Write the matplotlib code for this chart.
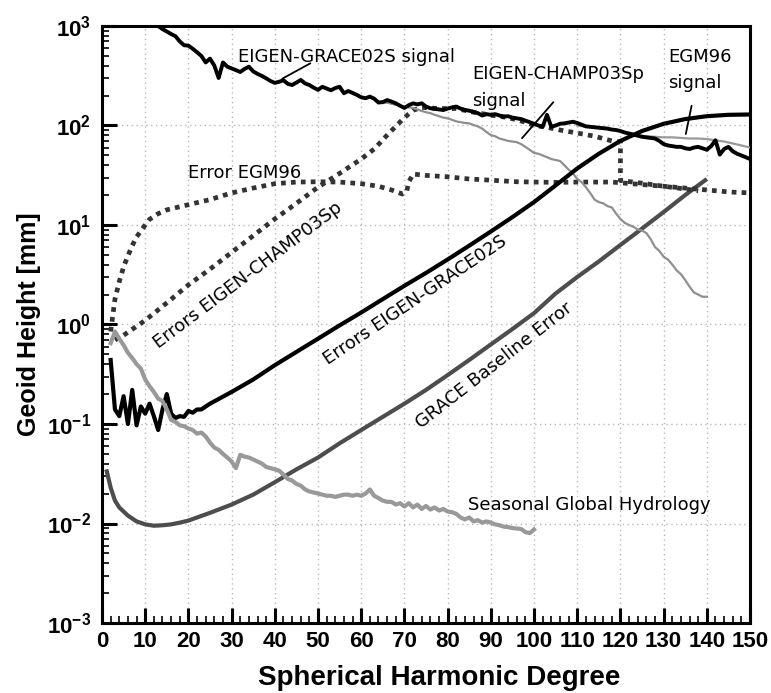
import matplotlib
matplotlib.use('Agg')
import matplotlib.pyplot as plt
from matplotlib.ticker import FixedLocator, MultipleLocator, LogLocator, NullFormatter

plt.rcParams['font.family'] = 'Liberation Sans'
plt.rcParams['mathtext.fontset'] = 'custom'
plt.rcParams['mathtext.rm'] = 'Liberation Sans:bold'
plt.rcParams['mathtext.bf'] = 'Liberation Sans:bold'
plt.rcParams['mathtext.it'] = 'Liberation Sans:bold'
plt.rcParams['mathtext.default'] = 'rm'

# EIGEN-GRACE02S signal (degree 12..150)
grace_sig_deg = list(range(12, 151))
grace_sig = [1150, 1000, 930, 880, 830, 790, 700, 640, 635, 590, 545, 500, 430, 470, 400, 300,
             430, 390, 375, 360, 345, 370, 390, 350, 330, 315, 298, 280, 268, 275, 285, 262,
             255, 270, 287, 265, 255, 240, 228, 245, 235, 226, 238, 245, 211, 222, 212, 203,
             192, 188, 195, 186, 170, 172, 180, 174, 167, 158, 150, 160, 167, 163, 167, 155,
             149, 147, 145, 143, 148, 152, 155, 148, 143, 141, 137, 133, 126, 130, 128, 130,
             126, 123, 124, 120, 118, 116, 112, 108, 104, 100, 97, 128, 97, 100, 104, 105,
             107, 109, 106, 102, 98, 97, 96, 95, 94, 93, 91, 90, 88, 85, 83, 81, 79, 77, 76,
             75, 74, 70, 65, 63, 62, 61, 61, 59, 58, 60, 61, 59, 57, 62, 71, 51, 58, 61, 55,
             52, 50, 48, 46]

# EIGEN-CHAMP03Sp signal (visible part, degree 65..140)
champ_sig_deg = list(range(65, 141))
champ_sig = [168, 170, 165, 162, 158, 155, 152, 150, 145, 140, 136, 133, 128, 124, 120, 118,
             114, 110, 108, 106, 105, 101, 98, 93, 86, 80, 78, 74, 72, 70, 69, 68, 65, 61, 57,
             53, 52, 50, 48, 46, 45, 44, 40, 36, 33, 29, 27, 24, 21, 18, 17, 16.5, 15.5, 15,
             13, 11.5, 10.5, 10, 9.6, 9, 8.8, 8.3, 7.2, 6, 5.5, 4.8, 4.5, 4, 3.5, 3.2, 2.8,
             2.4, 2.1, 2.0, 1.9, 1.9]

# EGM96 signal (visible part)
egm_sig_deg = [110, 114, 118, 120, 122, 124, 126, 128, 130, 132, 134, 136, 138, 140, 142, 144,
               146, 148, 150]
egm_sig = [100, 95, 92, 88, 84, 80, 78, 77, 76, 76, 75, 74, 74, 73, 71, 69, 66, 63, 60]

# Errors EIGEN-GRACE02S
grace_err_deg = [2, 3, 4, 5, 6, 7, 8, 9, 10, 11, 12, 13, 14, 15, 16, 17, 18, 19, 20, 21, 22, 23,
                 24, 25, 30, 35, 40, 45, 50, 55, 60, 65, 70, 75, 80, 85, 90, 95, 100, 105, 110,
                 115, 120, 125, 130, 135, 140, 145, 150]
grace_err = [0.44, 0.14, 0.12, 0.19, 0.10, 0.22, 0.097, 0.15, 0.127, 0.16, 0.12, 0.087, 0.14,
             0.2, 0.127, 0.115, 0.12, 0.118, 0.135, 0.13, 0.14, 0.14, 0.15, 0.16, 0.21, 0.28,
             0.39, 0.53, 0.72, 0.98, 1.32, 1.8, 2.45, 3.3, 4.5, 6.2, 8.6, 12, 17, 25, 37, 52,
             70, 88, 104, 116, 124, 128, 129]

# Errors EIGEN-CHAMP03Sp
champ_err_deg = [3, 5, 10, 15, 20, 25, 30, 35, 40, 45, 50, 55, 60, 63, 66, 68, 70, 72, 74, 78,
                 82, 86, 90, 94, 98, 100, 103, 106, 110, 114, 118, 120, 120, 125, 130, 135, 138]
champ_err = [0.7, 0.78, 1.1, 1.65, 2.5, 3.6, 5.3, 7.8, 11.5, 16.5, 24, 33, 46, 58, 80, 98, 120,
             142, 152, 148, 148, 136, 127, 120, 108, 100, 96, 90, 84, 78, 70, 68, 28, 26.3,
             24.5, 23, 22]

# Error EGM96
egm_err_deg = [2, 3, 4, 5, 6, 7, 8, 9, 10, 11, 13, 15, 20, 25, 30, 35, 40, 45, 50, 55, 60, 64,
               67, 69.5, 70.5, 71, 72, 75, 80, 85, 90, 96, 105, 110, 118, 125, 130, 135, 140,
               145, 150]
egm_err = [0.85, 1.8, 2.7, 3.8, 4.9, 6.2, 7.6, 8.7, 10, 11.4, 13, 14.2, 16, 18, 21, 23.5, 26,
           27, 27.2, 27, 26, 24.5, 22.5, 20.5, 21.5, 27, 32.5, 31.5, 30.5, 29, 28.2, 27.2, 26.8,
           27, 27, 25.5, 24.5, 23.5, 22.5, 21.5, 21]

# GRACE baseline error
base_deg = [1, 2, 3, 4, 6, 8, 10, 12, 14, 16, 18, 20, 25, 30, 35, 40, 45, 50, 55, 60, 65, 70,
            75, 80, 85, 90, 95, 100, 105, 110, 115, 120, 125, 130, 135, 140]
base_err = [0.035, 0.023, 0.017, 0.0145, 0.012, 0.0105, 0.0098, 0.0095, 0.0096, 0.0098, 0.0102,
            0.0107, 0.0128, 0.0155, 0.0195, 0.026, 0.035, 0.046, 0.064, 0.087, 0.118, 0.16, 0.22,
            0.31, 0.44, 0.63, 0.9, 1.3, 2.05, 3.0, 4.3, 6.3, 9.2, 13.5, 20, 29]

# Seasonal global hydrology (degree 2..100)
hydro_deg = list(range(2, 101))
hydro = [0.65, 0.85, 0.72, 0.62, 0.52, 0.46, 0.40, 0.36, 0.28, 0.24, 0.21, 0.18, 0.17, 0.14,
         0.11, 0.105, 0.097, 0.095, 0.09, 0.087, 0.08, 0.082, 0.075, 0.065, 0.058, 0.055, 0.05,
         0.046, 0.042, 0.036, 0.049, 0.047, 0.046, 0.044, 0.042, 0.040, 0.037, 0.036, 0.035,
         0.034, 0.031, 0.028, 0.027, 0.025, 0.024, 0.022, 0.021, 0.0205, 0.020, 0.0195, 0.019,
         0.019, 0.0185, 0.019, 0.0195, 0.0195, 0.019, 0.0195, 0.019, 0.02, 0.022, 0.019, 0.018,
         0.017, 0.0165, 0.0165, 0.0155, 0.016, 0.0148, 0.016, 0.0145, 0.0155, 0.014, 0.015,
         0.0138, 0.0145, 0.0135, 0.014, 0.0132, 0.013, 0.0125, 0.0115, 0.011, 0.0115, 0.0105,
         0.0108, 0.0102, 0.0105, 0.0102, 0.0098, 0.0096, 0.0093, 0.0092, 0.009, 0.0089, 0.0088,
         0.0082, 0.008, 0.0087]

y_ticks = [1e-3, 1e-2, 1e-1, 1e0, 1e1, 1e2, 1e3]
y_ticklabels = [r'$10^{-3}$', r'$10^{-2}$', r'$10^{-1}$', r'$10^{0}$', r'$10^{1}$',
                r'$10^{2}$', r'$10^{3}$']
x_ticks = list(range(0, 151, 10))

fig = plt.figure(figsize=(7.71, 6.93), dpi=100)
ax = fig.add_axes([0.1323, 0.101, 0.8405, 0.8615])
ax.set_yscale('log')
ax.set_xlim(0, 150)
ax.set_ylim(1e-3, 1e3)

ax.grid(True, which='major', linestyle=(0, (1, 2.5)), color='#b8b8b8', linewidth=1.0)

dot = (0, (1, 1.1))
ax.plot(base_deg, base_err, color='#4d4d4d', lw=3.0, zorder=3, solid_capstyle='butt')
ax.plot(egm_err_deg, egm_err, color='#333333', lw=3.4, linestyle=dot, dash_capstyle='butt', zorder=3)
ax.plot(champ_err_deg, champ_err, color='#333333', lw=3.4, linestyle=dot, dash_capstyle='butt', zorder=3)
ax.plot(champ_sig_deg, champ_sig, color='#8f8f8f', lw=1.6, zorder=3)
ax.plot(egm_sig_deg, egm_sig, color='#9a9a9a', lw=1.6, zorder=3)
ax.plot(grace_sig_deg, grace_sig, color='black', lw=2.8, zorder=4)
ax.plot(grace_err_deg, grace_err, color='black', lw=3.0, zorder=4)
ax.plot(hydro_deg, hydro, color='#999999', lw=3.0, zorder=5)

ax.yaxis.set_major_locator(FixedLocator(y_ticks))
ax.set_yticklabels(y_ticklabels)
ax.yaxis.set_minor_locator(LogLocator(base=10, subs=range(2, 10), numticks=20))
ax.yaxis.set_minor_formatter(NullFormatter())
ax.xaxis.set_major_locator(FixedLocator(x_ticks))
ax.xaxis.set_minor_locator(MultipleLocator(2))

ax.tick_params(which='major', direction='in', length=11, width=2.2, top=False, right=False,
               labelsize=16, pad=6)
ax.tick_params(which='minor', direction='in', length=5, width=1.2, top=False, right=False)
ax.tick_params(axis='y', which='major', pad=8)
for lbl in ax.get_xticklabels() + ax.get_yticklabels():
    lbl.set_fontweight('bold')
for s in ax.spines.values():
    s.set_linewidth(2.2)

ax.set_xlabel('Spherical Harmonic Degree', fontsize=20, fontweight='bold')
ax.xaxis.set_label_coords(0.52, -0.07)
ax.set_ylabel('Geoid Height [mm]', fontsize=18, fontweight='bold', labelpad=4)

lab = dict(fontsize=13, family='DejaVu Sans', color='black', zorder=6)
ax.text(31.5, 488, 'EIGEN-GRACE02S signal', ha='left', va='center', **lab)
ax.text(85.6, 329, 'EIGEN-CHAMP03Sp', ha='left', va='center', **lab)
ax.text(85.6, 176, 'signal', ha='left', va='center', **lab)
ax.text(131, 488, 'EGM96', ha='left', va='center', **lab)
ax.text(131, 267, 'signal', ha='left', va='center', **lab)
ax.text(19.9, 33.3, 'Error EGM96', ha='left', va='center', **lab)
ax.text(84.7, 0.0152, 'Seasonal Global Hydrology', ha='left', va='center', **lab)
ax.text(33.8, 3.15, 'Errors EIGEN-CHAMP03Sp', ha='center', va='center', rotation=37,
        rotation_mode='anchor', **lab)
ax.text(72.5, 1.76, 'Errors EIGEN-GRACE02S', ha='center', va='center', rotation=34,
        rotation_mode='anchor', **lab)
ax.text(90.7, 0.383, 'GRACE Baseline Error', ha='center', va='center', rotation=38,
        rotation_mode='anchor', **lab)

ptr = dict(arrowstyle='-', color='black', lw=1.3)
ax.annotate('', xy=(41.2, 287), xytext=(48.8, 435), arrowprops=ptr)
ax.annotate('', xy=(96.8, 71), xytext=(104.9, 180), arrowprops=ptr)
ax.annotate('', xy=(135, 77), xytext=(136.6, 168), arrowprops=ptr)

fig.savefig('out.png', dpi=100)
